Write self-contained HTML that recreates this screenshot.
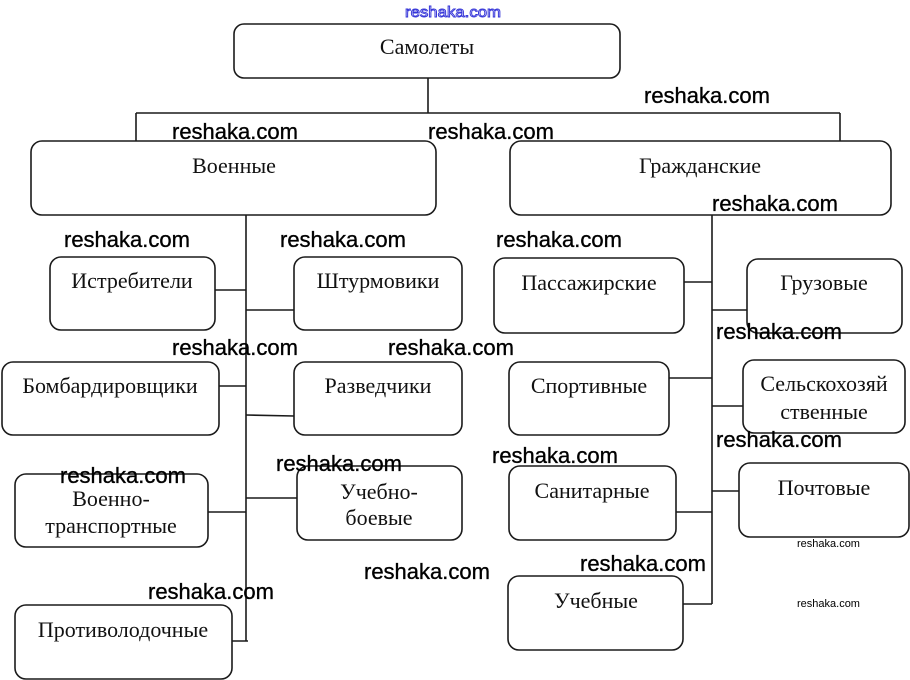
<!DOCTYPE html>
<html><head><meta charset="utf-8"><style>
html,body{margin:0;padding:0;background:#fff;}
svg{display:block;}
.b{fill:#fff;stroke:#1a1a1a;stroke-width:1.6;}
.l{stroke:#1a1a1a;stroke-width:1.6;fill:none;}
.t{font-family:"Liberation Serif","DejaVu Serif",serif;font-size:22px;fill:#111;text-anchor:middle;}
.w{font-family:"Liberation Sans","DejaVu Sans",sans-serif;font-size:22px;fill:#000;stroke:#000;stroke-width:0.35;}
.s{font-family:"Liberation Sans","DejaVu Sans",sans-serif;font-size:11px;fill:#000;}
</style></head><body>
<svg width="910" height="680" viewBox="0 0 910 680" xmlns="http://www.w3.org/2000/svg">
<!-- connectors -->
<path class="l" d="M428 78V113M136 113H840M136 113V141M840 113V141"/>
<path class="l" d="M246 215V641M712 215V604"/>
<path class="l" d="M215 290H246M246 310H294M219 386H246M246 415L294 416M208 512H246M246 498H297M232 641H248"/>
<path class="l" d="M684 282H712M712 310H747M669 378H712M712 406H743M676 512H712M712 491H739M683 604H712"/>
<!-- boxes -->
<rect class="b" x="234" y="24" width="386" height="54" rx="10"/>
<rect class="b" x="31" y="141" width="405" height="74" rx="11"/>
<rect class="b" x="510" y="141" width="381" height="74" rx="11"/>
<rect class="b" x="50" y="257" width="165" height="73" rx="11"/>
<rect class="b" x="294" y="257" width="168" height="73" rx="11"/>
<rect class="b" x="2" y="362" width="217" height="73" rx="11"/>
<rect class="b" x="294" y="362" width="168" height="73" rx="11"/>
<rect class="b" x="15" y="474" width="193" height="73" rx="11"/>
<rect class="b" x="297" y="466" width="165" height="74" rx="11"/>
<rect class="b" x="15" y="605" width="217" height="74" rx="11"/>
<rect class="b" x="494" y="258" width="190" height="75" rx="11"/>
<rect class="b" x="747" y="259" width="155" height="74" rx="11"/>
<rect class="b" x="509" y="362" width="160" height="73" rx="11"/>
<rect class="b" x="743" y="360" width="162" height="73" rx="11"/>
<rect class="b" x="509" y="466" width="167" height="74" rx="11"/>
<rect class="b" x="739" y="463" width="170" height="74" rx="11"/>
<rect class="b" x="508" y="576" width="175" height="74" rx="11"/>
<!-- labels -->
<text class="t" x="427" y="54">Самолеты</text>
<text class="t" x="234" y="173">Военные</text>
<text class="t" x="700" y="173">Гражданские</text>
<text class="t" x="132" y="288">Истребители</text>
<text class="t" x="378" y="288">Штурмовики</text>
<text class="t" x="110" y="393">Бомбардировщики</text>
<text class="t" x="378" y="393">Разведчики</text>
<text class="t" x="111" y="506">Военно-</text>
<text class="t" x="111" y="533">транспортные</text>
<text class="t" x="379" y="499">Учебно-</text>
<text class="t" x="379" y="525">боевые</text>
<text class="t" x="123" y="637">Противолодочные</text>
<text class="t" x="589" y="290">Пассажирские</text>
<text class="t" x="824" y="290">Грузовые</text>
<text class="t" x="589" y="393">Спортивные</text>
<text class="t" x="824" y="391">Сельскохозяй</text>
<text class="t" x="824" y="419">ственные</text>
<text class="t" x="592" y="498">Санитарные</text>
<text class="t" x="824" y="495">Почтовые</text>
<text class="t" x="596" y="608">Учебные</text>
<!-- watermarks -->
<text x="405" y="17" style="font-family:'Liberation Sans',sans-serif;font-size:15px;fill:#fff;stroke:#3535d8;stroke-width:0.9;" textLength="96" lengthAdjust="spacingAndGlyphs">reshaka.com</text>
<text class="w" x="644" y="103">reshaka.com</text>
<text class="w" x="172" y="139">reshaka.com</text>
<text class="w" x="428" y="139">reshaka.com</text>
<text class="w" x="712" y="211">reshaka.com</text>
<text class="w" x="64" y="247">reshaka.com</text>
<text class="w" x="280" y="247">reshaka.com</text>
<text class="w" x="496" y="247">reshaka.com</text>
<text class="w" x="716" y="339">reshaka.com</text>
<text class="w" x="172" y="355">reshaka.com</text>
<text class="w" x="388" y="355">reshaka.com</text>
<text class="w" x="716" y="447">reshaka.com</text>
<text class="w" x="60" y="483">reshaka.com</text>
<text class="w" x="276" y="471">reshaka.com</text>
<text class="w" x="492" y="463">reshaka.com</text>
<text class="w" x="364" y="579">reshaka.com</text>
<text class="w" x="580" y="571">reshaka.com</text>
<text class="w" x="148" y="599">reshaka.com</text>
<text class="s" x="797" y="547">reshaka.com</text>
<text class="s" x="797" y="607">reshaka.com</text>
</svg>
</body></html>
